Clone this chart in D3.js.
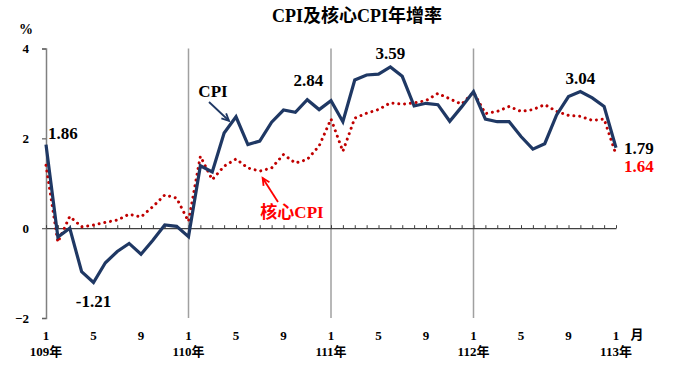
<!DOCTYPE html>
<html><head><meta charset="utf-8">
<script src="https://cdn.jsdelivr.net/npm/d3@7"></script>
<style>
html,body{margin:0;padding:0;background:#fff;}
svg{display:block;}
text{font-family:"Liberation Serif","Times New Roman","Noto Sans CJK TC",serif;font-weight:bold;}
</style></head>
<body>
<script>
// ---- data ----
const cpi = [1.86,-0.20,0.00,-0.97,-1.21,-0.77,-0.52,-0.34,-0.58,-0.27,0.07,0.04,
  -0.19,1.39,1.25,2.12,2.48,1.86,1.94,2.36,2.63,2.58,2.86,2.64,
  2.84,2.37,3.30,3.41,3.43,3.59,3.38,2.72,2.78,2.75,2.38,2.70,
  3.04,2.43,2.37,2.37,2.04,1.76,1.88,2.52,2.93,3.04,2.90,2.71,
  1.79];
const core = [1.40,-0.31,0.26,0.03,0.07,0.13,0.18,0.31,0.25,0.48,0.74,0.67,
  0.15,1.60,1.08,1.38,1.54,1.34,1.27,1.34,1.64,1.45,1.53,1.83,
  2.43,1.71,2.45,2.56,2.64,2.79,2.76,2.79,2.84,3.00,2.88,2.76,
  3.03,2.55,2.60,2.71,2.60,2.64,2.75,2.60,2.51,2.49,2.40,2.43,
  1.64];
const monthTickIdx = [0,4,8,12,16,20,24,28,32,36,40,44,48];
const monthTickLabels = ["1","5","9","1","5","9","1","5","9","1","5","9","1"];
const yearIdx = [0,12,24,36,48];
const yearLabels = ["109年","110年","111年","112年","113年"];
const yTicks = [-2,0,2,4];
const title = "CPI及核心CPI年增率";

const W = 673, H = 387;
const svg = d3.select("body").append("svg").attr("width", W).attr("height", H);

const x = d3.scaleLinear().domain([0, 48]).range([46, 616]);
const y = d3.scaleLinear().domain([-2, 4]).range([318, 48.5]);

// title
svg.append("text").attr("x", 357).attr("y", 16).attr("dy", "0.35em")
  .attr("text-anchor", "middle").attr("font-size", 18).attr("fill", "#000").text(title);
svg.append("text").attr("x", 26).attr("y", 29).attr("dy", "0.35em")
  .attr("text-anchor", "middle").attr("font-size", 14).attr("font-weight","normal").attr("fill", "#000").text("%");

// year separator lines
svg.append("g").selectAll("line").data(yearIdx.slice(1, 4)).join("line")
  .attr("x1", d => x(d)).attr("x2", d => x(d))
  .attr("y1", y(4)).attr("y2", y(-2))
  .attr("stroke", "#a0a0a0").attr("stroke-width", 1.5);

// y axis
const yAxis = svg.append("g").attr("transform", `translate(${x(0)},0)`)
  .call(d3.axisLeft(y).tickValues(yTicks).tickSize(4).tickPadding(13).tickFormat(d3.format("d")));
yAxis.select(".domain").attr("stroke", "#808080").attr("stroke-width", 1.5);
yAxis.selectAll(".tick line").attr("stroke", "#606060").attr("stroke-width", 1.2);
yAxis.selectAll(".tick text").attr("font-size", 13).attr("fill", "#000")
  .style("font-family", '"Liberation Serif","Times New Roman",serif').style("font-weight", "bold");

// zero axis with upward ticks
const xAxis = svg.append("g").attr("transform", `translate(0,${y(0)})`)
  .call(d3.axisTop(x).tickValues(d3.range(0, 49)).tickSize(3).tickSizeOuter(0).tickFormat(""));
xAxis.select(".domain").attr("stroke", "#404040").attr("stroke-width", 1.2);
xAxis.selectAll(".tick line").attr("stroke", "#404040").attr("stroke-width", 1);

// month labels
svg.append("g").selectAll("text").data(monthTickIdx).join("text")
  .attr("x", d => x(d)).attr("y", 335).attr("dy", "0.35em")
  .attr("text-anchor", "middle").attr("font-size", 13).attr("fill", "#000")
  .text((d, i) => monthTickLabels[i]);
svg.append("text").attr("x", 637).attr("y", 334).attr("dy", "0.35em")
  .attr("text-anchor", "middle").attr("font-size", 13).attr("fill", "#000").text("月");
svg.append("g").selectAll("text").data(yearIdx).join("text")
  .attr("x", d => x(d)).attr("y", 351).attr("dy", "0.35em")
  .attr("text-anchor", "middle").attr("font-size", 13).attr("fill", "#000")
  .text((d, i) => yearLabels[i]);

// lines
const line = d3.line().x((d, i) => x(i)).y(d => y(d));
svg.append("path").datum(core).attr("d", line).attr("fill", "none")
  .attr("stroke", "#c00000").attr("stroke-width", 3).attr("stroke-linecap", "round")
  .attr("stroke-dasharray", "0.01 5.8");
svg.append("path").datum(cpi).attr("d", line).attr("fill", "none")
  .attr("stroke", "#1f3864").attr("stroke-width", 3.2).attr("stroke-linejoin", "miter");

// value labels
function label(tx, ty, txt, anchor, color) {
  svg.append("text").attr("x", tx).attr("y", ty).attr("dy", "0.35em")
    .attr("text-anchor", anchor).attr("font-size", 17).attr("fill", color).text(txt);
}
label(x(0) + 2, y(cpi[0]) - 12, "1.86", "start", "#000");
label(x(4), y(cpi[4]) + 19, "-1.21", "middle", "#000");
label(x(22) + 1, y(cpi[22]) - 20, "2.84", "middle", "#000");
label(x(29), y(cpi[29]) - 14, "3.59", "middle", "#000");
label(x(45), y(cpi[45]) - 14, "3.04", "middle", "#000");
label(x(48) + 8, y(cpi[48]) + 0, "1.79", "start", "#000");
label(x(48) + 8, y(core[48]) + 12, "1.64", "start", "#ff0000");

// annotations with arrows
function arrow(x1, y1, x2, y2, color) {
  svg.append("line").attr("x1", x1).attr("y1", y1).attr("x2", x2).attr("y2", y2)
    .attr("stroke", color).attr("stroke-width", 1.8);
  const a = Math.atan2(y2 - y1, x2 - x1), L = 8, s = 0.45;
  const p1 = [x2 - L * Math.cos(a - s), y2 - L * Math.sin(a - s)];
  const p2 = [x2 - L * Math.cos(a + s), y2 - L * Math.sin(a + s)];
  svg.append("path").attr("d", `M${p1}L${x2},${y2}L${p2}`).attr("fill", "none")
    .attr("stroke", color).attr("stroke-width", 1.8);
}
label(213, 91, "CPI", "middle", "#000");
arrow(209, 102, x(16) - 7, y(cpi[16]) + 4, "#1f3864");
label(292, 212, "核心CPI", "middle", "#ff0000");
arrow(278, 202, x(19) - 9, y(core[19]) + 10, "#ff0000");
</script>
</body></html>
